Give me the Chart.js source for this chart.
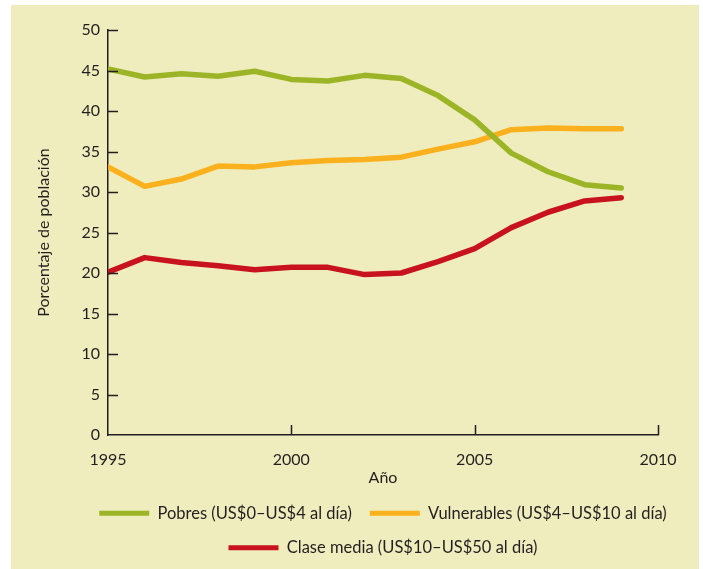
<!DOCTYPE html>
<html>
<head>
<meta charset="utf-8">
<script src="https://cdn.jsdelivr.net/npm/chart.js@4"></script>
<style>
  html, body { margin: 0; padding: 0; background: #fff; overflow: hidden; }
  #wrap { position: relative; width: 703px; height: 569px; }
</style>
</head>
<body>
<div id="wrap"><canvas id="myChart" width="703" height="569"></canvas></div>
<script>
const years = [1995, 1996, 1997, 1998, 1999, 2000, 2001, 2002, 2003, 2004, 2005, 2006, 2007, 2008, 2009]
const pobres = [45.2, 44.2, 44.6, 44.3, 44.9, 43.9, 43.7, 44.4, 44.0, 41.9, 38.9, 34.8, 32.5, 30.9, 30.5]
const vulnerables = [33.1, 30.7, 31.6, 33.2, 33.1, 33.6, 33.9, 34.0, 34.3, 35.3, 36.2, 37.7, 37.9, 37.8, 37.8]
const claseMedia = [20.1, 21.9, 21.3, 20.9, 20.4, 20.7, 20.7, 19.8, 20.0, 21.4, 23.0, 25.6, 27.5, 28.9, 29.3]
const xTicks = [1995, 2000, 2005, 2010]

const ink = '#231f20'
const fontName = 'Lato, "Open Sans", sans-serif'

const toPoints = vals => vals.map((v, i) => ({ x: years[i], y: v }))

// cream panel behind the whole figure
const panel = {
    id: 'panel',
    beforeDraw(chart) {
        const c = chart.ctx
        c.save()
        c.fillStyle = '#efedbd'
        c.fillRect(11, 5, 688, 564)
        c.restore()
    }
}

// center the legend under the plot area instead of the canvas
const legendShift = {
    id: 'legendShift',
    afterLayout(chart) {
        const lg = chart.legend
        const area = chart.chartArea
        const dx = (area.left + area.right) / 2 - (lg.left + lg.right) / 2
        lg.left += dx
        lg.right += dx
    }
}

// short tick marks pointing into the plot
const innerTicks = {
    id: 'innerTicks',
    afterDraw(chart) {
        const c = chart.ctx
        const { x, y } = chart.scales
        const len = 10
        c.save()
        c.strokeStyle = ink
        c.lineWidth = 1.5
        c.beginPath()
        y.ticks.forEach(t => {
            if (t.value === 0) return
            const py = Math.round(y.getPixelForValue(t.value)) + 0.5
            c.moveTo(x.left, py)
            c.lineTo(x.left + len, py)
        })
        x.ticks.forEach(t => {
            if (t.value === x.min) return
            const px = Math.round(x.getPixelForValue(t.value)) + 0.5
            c.moveTo(px, y.bottom)
            c.lineTo(px, y.bottom - len)
        })
        c.stroke()
        c.restore()
    }
}

const line = (label, vals, color) => ({
    label: label,
    data: toPoints(vals),
    borderColor: color,
    backgroundColor: color,
    borderWidth: 5.5,
    borderCapStyle: 'round',
    borderJoinStyle: 'round',
    pointRadius: 0,
    tension: 0
})

const ctx = document.getElementById('myChart')

const myChart = new Chart(ctx, {
    type: 'line',
    data: {
        datasets: [
            line('Pobres (US$0–US$4 al día)', pobres, '#9cb527'),
            line('Vulnerables (US$4–US$10 al día)', vulnerables, '#fbb01e'),
            line('Clase media (US$10–US$50 al día)', claseMedia, '#c8121e')
        ]
    },
    options: {
        responsive: false,
        animation: false,
        layout: { padding: { top: 30, right: 45, bottom: 3, left: 0 } },
        scales: {
            x: {
                type: 'linear',
                min: 1995,
                max: 2010,
                afterBuildTicks: s => { s.ticks = xTicks.map(v => ({ value: v })) },
                afterFit: s => { s.height = 52 },
                grid: { display: false, drawTicks: false },
                border: { display: true, color: ink, width: 1.5 },
                ticks: {
                    color: ink,
                    padding: 15,
                    maxRotation: 0,
                    font: { family: fontName, size: 16 },
                    callback: v => String(v)
                },
                title: {
                    display: true,
                    text: 'Año',
                    color: ink,
                    padding: { top: 0, bottom: 0 },
                    font: { family: fontName, size: 16 }
                }
            },
            y: {
                min: 0,
                max: 50,
                afterFit: s => { s.width = 108 },
                grid: { display: false, drawTicks: false },
                border: { display: true, color: ink, width: 1.5 },
                ticks: {
                    stepSize: 5,
                    color: ink,
                    padding: 8,
                    font: { family: fontName, size: 16 }
                },
                title: {
                    display: true,
                    text: 'Porcentaje de población',
                    color: ink,
                    padding: { top: 34, bottom: 0 },
                    font: { family: fontName, size: 16 }
                }
            }
        },
        plugins: {
            legend: {
                position: 'bottom',
                labels: {
                    color: ink,
                    boxWidth: 50,
                    boxHeight: 5,
                    padding: 18,
                    font: { family: fontName, size: 16.5 },
                    generateLabels: chart => Chart.defaults.plugins.legend.labels.generateLabels(chart)
                        .map(l => Object.assign(l, { lineWidth: 0 }))
                }
            },
            tooltip: { enabled: false }
        }
    },
    plugins: [panel, legendShift, innerTicks]
})
</script>
</body>
</html>
